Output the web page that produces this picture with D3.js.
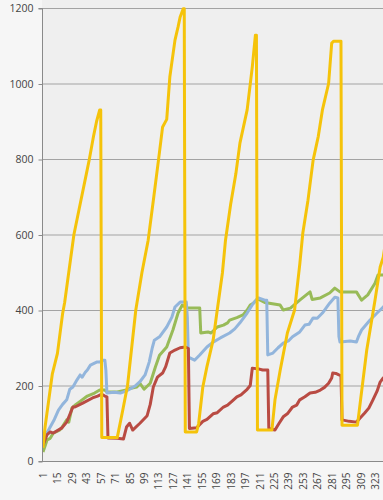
<!DOCTYPE html>
<html><head><meta charset="utf-8">
<script src="https://cdn.jsdelivr.net/npm/d3@7"></script>
<style>html,body{margin:0;padding:0;background:#f6f6f6;overflow:hidden}</style>
</head><body>
<script>
const yTicks = [0, 200, 400, 600, 800, 1000, 1200];
const xTickLabels = [1,15,29,43,57,71,85,99,113,127,141,155,169,183,197,211,225,239,253,267,281,295,309,323];

// [category index, value]
const yellowSeries = [[1,35],[3,90],[6,150],[10,230],[15,285],[20,390],[22,420],[25,480],[31,600],[37,680],[43,760],[46,800],[50,860],[53,900],[56,930],[57,930],[58,62],[73,62],[78,130],[83,200],[91,400],[97,500],[103,585],[108,690],[113,797],[117,885],[121,905],[124,1017],[129,1115],[132,1150],[134,1176],[137,1198],[138,1198],[139,77],[150,77],[152,100],[156,196],[160,250],[166,320],[170,400],[175,498],[178,585],[183,680],[188,760],[192,842],[199,930],[204,1044],[207,1128],[208,1128],[209,82],[223,82],[226,162],[231,240],[238,339],[245,400],[250,520],[253,604],[258,691],[263,797],[268,860],[272,930],[278,1000],[281,1107],[283,1112],[289,1112],[290,1112],[291,95],[306,95],[309,162],[315,294],[323,426],[328,514],[331,540],[336,630]];
const blueSeries = [[1,48],[4,70],[8,90],[12,110],[16,135],[20,150],[24,162],[27,190],[30,196],[34,215],[37,228],[39,222],[42,235],[44,241],[47,254],[50,258],[53,262],[56,262],[59,267],[61,267],[62,240],[63,180],[70,182],[76,180],[82,186],[85,190],[90,198],[95,210],[100,228],[104,262],[107,300],[109,320],[114,329],[121,355],[126,381],[129,408],[134,421],[140,421],[141,380],[142,275],[148,267],[153,281],[160,302],[166,315],[173,326],[182,339],[187,350],[192,366],[199,392],[205,418],[210,432],[216,426],[218,426],[219,281],[224,286],[229,300],[234,312],[239,318],[243,329],[250,342],[255,360],[259,362],[263,379],[267,378],[272,392],[279,418],[284,434],[287,432],[288,330],[289,315],[299,318],[305,315],[307,330],[310,347],[318,373],[325,392],[331,408],[336,420]];
const greenSeries = [[1,24],[3,40],[5,56],[8,60],[11,74],[17,82],[19,87],[24,109],[26,103],[29,140],[33,150],[37,158],[44,172],[51,180],[56,188],[61,188],[63,183],[73,183],[82,188],[85,192],[92,196],[95,206],[99,190],[105,206],[110,249],[114,280],[121,302],[127,347],[132,392],[136,413],[141,405],[153,405],[154,339],[161,342],[164,339],[170,355],[176,360],[180,366],[182,373],[189,380],[195,387],[199,400],[202,413],[205,418],[209,430],[216,420],[231,413],[234,400],[241,405],[250,426],[260,448],[262,428],[270,432],[279,445],[284,458],[289,448],[305,448],[310,426],[316,440],[323,471],[326,493],[331,493],[336,500]];
const redSeries = [[1,42],[5,70],[8,77],[11,74],[19,87],[24,103],[30,143],[32,143],[40,154],[49,167],[54,172],[58,177],[61,172],[63,170],[64,61],[73,60],[79,58],[82,90],[85,100],[88,82],[95,100],[102,120],[105,150],[108,196],[112,222],[117,233],[120,250],[124,286],[129,294],[134,300],[139,302],[142,298],[143,86],[150,88],[156,105],[160,110],[166,125],[170,128],[176,143],[180,148],[185,160],[189,170],[193,175],[199,190],[202,200],[204,246],[210,244],[214,241],[219,241],[220,87],[222,84],[226,82],[230,100],[234,117],[238,125],[243,143],[247,148],[250,162],[255,170],[260,180],[265,182],[270,188],[274,195],[278,206],[281,220],[282,233],[285,232],[288,228],[290,226],[291,109],[298,105],[305,103],[309,115],[313,127],[317,140],[321,162],[325,185],[328,209],[331,220],[336,230]];

const W = 383, H = 500;
const plot = {left: 42, right: 383, top: 8, bottom: 461};

const svg = d3.select("body").append("svg").attr("width", W).attr("height", H);

const x = d3.scaleLinear().domain([1, 323]).range([43, 375]);
const y = d3.scaleLinear().domain([0, 1200]).range([plot.bottom, plot.top]);

svg.append("rect").attr("x", plot.left).attr("y", 0).attr("width", plot.right - plot.left)
  .attr("height", plot.bottom).attr("fill", "#efefef");

// gridlines
svg.append("g").selectAll("line").data(yTicks.filter(d => d > 0)).join("line")
  .attr("x1", plot.left).attr("x2", plot.right)
  .attr("y1", d => y(d) + 0.5).attr("y2", d => y(d) + 0.5)
  .attr("stroke", "#a3a3a3").attr("stroke-width", 1);

// y axis
const yAxis = d3.axisLeft(y).tickValues(yTicks).tickSize(4).tickPadding(5).tickFormat(d3.format("d"));
const gy = svg.append("g").attr("transform", `translate(${plot.left + 0.5},0.5)`).call(yAxis);
gy.select(".domain").attr("stroke", "#8a8a8a").attr("d", `M-4,${plot.top}H0V${plot.bottom}H-4`);
gy.selectAll(".tick line").attr("stroke", "#8a8a8a");
gy.selectAll("text").attr("fill", "#444").style("font-family", "'Open Sans', sans-serif").style("font-size", "10.5px");

// x axis
const xAxis = d3.axisBottom(x).tickValues(xTickLabels).tickSize(0).tickPadding(0).tickFormat(d3.format("d"));
const gx = svg.append("g").attr("transform", `translate(0,${plot.bottom + 0.5})`).call(xAxis);
gx.select(".domain").attr("stroke", "#8a8a8a").attr("d", `M${plot.left},0H${plot.right}`);
gx.selectAll("text")
  .attr("transform", "translate(0,11) rotate(-90)")
  .attr("y", 0).attr("x", 0).attr("dy", "0.35em")
  .attr("text-anchor", "end")
  .attr("fill", "#444").style("font-family", "'Open Sans', sans-serif").style("font-size", "10px");

svg.append("clipPath").attr("id", "clip").append("rect")
  .attr("x", plot.left + 1).attr("y", 0).attr("width", plot.right - plot.left).attr("height", plot.bottom);

const line = d3.line().x(d => x(d[0])).y(d => y(d[1]));
const g = svg.append("g").attr("clip-path", "url(#clip)");
const series = [
  {data: greenSeries, color: "#98bb58"},
  {data: blueSeries, color: "#92b5dc"},
  {data: redSeries, color: "#b94b43"},
  {data: yellowSeries, color: "#f5c30a"}
];
g.selectAll("path").data(series).join("path")
  .attr("d", d => line(d.data))
  .attr("fill", "none")
  .attr("stroke", d => d.color)
  .attr("stroke-width", 3)
  .attr("stroke-linejoin", "round");
</script>
</body></html>
